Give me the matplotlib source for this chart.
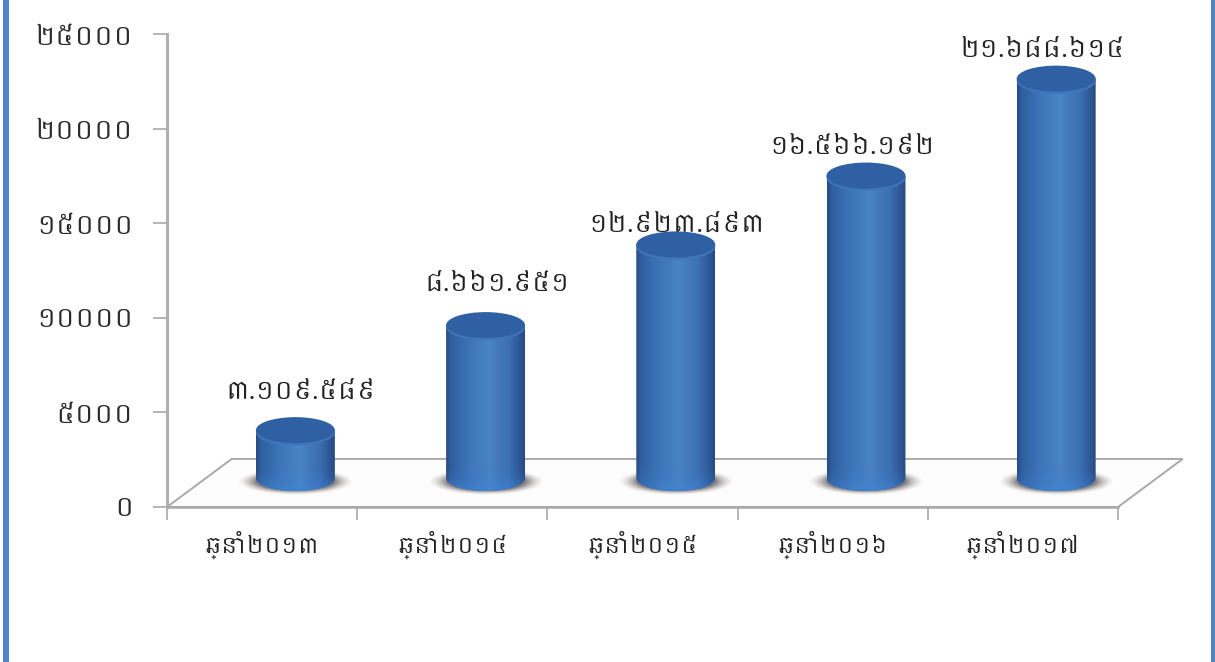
import numpy as np
import matplotlib
matplotlib.use("Agg")
from matplotlib import pyplot as plt
from matplotlib.colors import LinearSegmentedColormap, to_rgb
from matplotlib.patches import Ellipse, PathPatch, Polygon, Rectangle
from matplotlib.path import Path

years = ["ឆ្នាំ២០១៣", "ឆ្នាំ២០១៤", "ឆ្នាំ២០១៥", "ឆ្នាំ២០១៦", "ឆ្នាំ២០១៧"]
values = [3109.589, 8661.951, 12923.893, 16566.192, 21688.614]
value_labels = ["៣.១០៩.៥៨៩", "៨.៦៦១.៩៥១", "១២.៩២៣.៨៩៣", "១៦.៥៦៦.១៩២", "២១.៦៨៨.៦១៤"]
y_ticks = [0, 5000, 10000, 15000, 20000, 25000]
y_tick_labels = ["០", "៥០០០", "១០០០០", "១៥០០០", "២០០០០", "២៥០០០"]

# hand placed value labels, pixels from the centre of the bar top
label_dx = [5, 11, 1, -14, -14]
label_dy = [31, 34, 13, 22, 22]

FONT = "Khmer"
W, H = 1215, 662
GREY = "#a9a9a9"

# 3d look of the plot area, in data units
DEPTH_X = 0.34
DEPTH_Y = 2540
BAR_DX = 0.175
BAR_W = 0.415
BASE_Y = 950
FOOT_Y = 1530
CAP_H = 1380

body_cmap = LinearSegmentedColormap.from_list("body", [
    (0.0, "#27497f"), (0.06, "#2f5f9f"), (0.3, "#3d75b9"),
    (0.55, "#4a83c6"), (0.8, "#3b6fb2"), (0.95, "#2c5490"), (1.0, "#27497f"),
])
shadow_cmap = LinearSegmentedColormap.from_list("shadow", [
    (0.0, (0.42, 0.40, 0.42, 0.85)), (1.0, (0.78, 0.74, 0.70, 0.0)),
])

fig = plt.figure(figsize=(W / 100, H / 100), dpi=100, facecolor="white")
ax = fig.add_axes([167 / W, (H - 507) / H, 951 / W, 473 / H])
ax.set_xlim(0, 5)
ax.set_ylim(0, 25000)
ax.patch.set_alpha(0)

for name in ["top", "right"]:
    ax.spines[name].set_visible(False)
ax.spines["left"].set_color("#b0b0b0")
ax.spines["left"].set_linewidth(2.2)
ax.spines["bottom"].set_color(GREY)
ax.spines["bottom"].set_linewidth(1.8)

# floor of the 3d plot
floor = [(0, 0), (5, 0), (5 + DEPTH_X, DEPTH_Y), (DEPTH_X, DEPTH_Y)]
ax.add_patch(Polygon(floor, closed=True, facecolor="#fdfdfd", edgecolor=GREY,
                     linewidth=1.4, clip_on=False, zorder=1))

pos = np.arange(len(values)) + 0.5 + BAR_DX
yy, xx = np.mgrid[-1:1:60j, -1:1:200j]
blur = np.clip(np.sqrt(xx ** 2 + yy ** 2), 0, 1)

for x, v, lab, dx, dy in zip(pos, values, value_labels, label_dx, label_dy):
    left, right = x - BAR_W / 2, x + BAR_W / 2
    top = BASE_Y + v

    # soft shadow on the floor
    im = ax.imshow(blur, cmap=shadow_cmap, vmin=0.68, vmax=1,
                   extent=(x - 0.30, x + 0.30, 1321 - 700, 1321 + 700),
                   aspect="auto", zorder=2, interpolation="bilinear")
    im.set_clip_on(False)

    # cylinder body: sides plus rounded bottom, gradient clipped to it
    k = 0.5523
    rx, ry = BAR_W / 2, CAP_H / 2
    verts = [(left, top), (left, FOOT_Y),
             (left, FOOT_Y - ry * k), (x - rx * k, FOOT_Y - ry), (x, FOOT_Y - ry),
             (x + rx * k, FOOT_Y - ry), (right, FOOT_Y - ry * k), (right, FOOT_Y),
             (right, top), (left, top)]
    codes = [Path.MOVETO, Path.LINETO, Path.CURVE4, Path.CURVE4, Path.CURVE4,
             Path.CURVE4, Path.CURVE4, Path.CURVE4, Path.LINETO, Path.CLOSEPOLY]
    outline = PathPatch(Path(verts, codes), facecolor="none", edgecolor="none", zorder=3)
    ax.add_patch(outline)
    grad = np.tile(np.linspace(0, 1, 256), (2, 1))
    body = ax.imshow(grad, cmap=body_cmap, extent=(left, right, FOOT_Y - ry, top),
                     aspect="auto", zorder=3, interpolation="bilinear")
    body.set_clip_path(outline)

    # brighter blue near the foot
    foot = np.zeros((40, 2, 4))
    foot[..., :3] = to_rgb("#3f86d8")
    foot[..., 3] = np.linspace(0.75, 0, 40)[:, None] ** 2
    glow = ax.imshow(foot, extent=(left, right, FOOT_Y - ry, FOOT_Y + 800),
                     aspect="auto", zorder=3.1, interpolation="bilinear", origin="lower")
    glow.set_clip_path(outline)

    # lit rim and darker cap on top
    ax.add_patch(Ellipse((x, top - 110), BAR_W, CAP_H, facecolor="#3f77ba",
                         edgecolor="none", zorder=3.2))
    ax.add_patch(Ellipse((x, top), BAR_W, CAP_H, facecolor="#2f60a4",
                         edgecolor="none", zorder=3.3))

    ax.annotate(lab, (x, top), xytext=(dx, dy), textcoords="offset pixels",
                ha="center", va="baseline", family=FONT, fontsize=18,
                color="#222222", zorder=5, annotation_clip=False)

# y axis
ax.set_yticks(y_ticks)
ax.set_yticklabels(y_tick_labels, family=FONT, fontsize=18.5, color="#2b2b2b")
ax.tick_params(axis="y", length=10, width=1.2, color=GREY, pad=14)

# x axis: ticks on the category edges, labels between them
ax.set_xticks(np.arange(6))
ax.set_xticklabels([])
ax.set_xticks(np.arange(5) + 0.5, minor=True)
ax.set_xticklabels(years, minor=True, family=FONT, fontsize=16, color="#222222")
ax.tick_params(axis="x", which="major", length=9, width=1.2, color=GREY)
ax.tick_params(axis="x", which="minor", length=0, pad=17)
ax.set_xlim(0, 5)
ax.set_ylim(0, 25000)

# blue frame of the picture, left and right
fig.add_artist(Rectangle((3 / W, 0), 5.5 / W, 1, transform=fig.transFigure,
                         facecolor="#4f82c6", edgecolor="none"))
fig.add_artist(Rectangle((1211 / W, 0), 4 / W, 1, transform=fig.transFigure,
                         facecolor="#4f82c6", edgecolor="none"))

fig.savefig("out.png", dpi=100)
